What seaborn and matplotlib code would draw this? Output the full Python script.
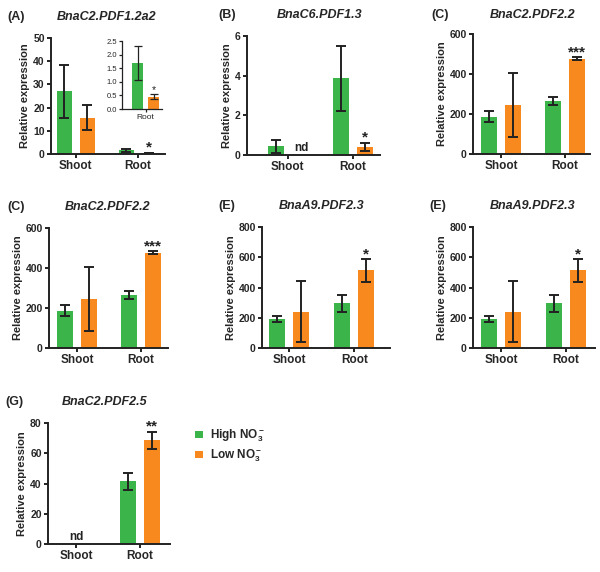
import numpy as np
import pandas as pd
import matplotlib
matplotlib.use("Agg")
import matplotlib.pyplot as plt
import seaborn as sns
from matplotlib.patches import Patch

# ---------------- data ----------------
tissues = ["Shoot", "Root"]
conditions = ["High", "Low"]
condition_labels = [r"High NO$_3^-$", r"Low NO$_3^-$"]

# (A) BnaC2.PDF1.2a2
a_high = [27.0, 1.7]
a_low = [15.7, 0.45]
a_high_err = [11.5, 0.63]
a_low_err = [5.3, 0.10]
# (B) BnaC6.PDF1.3  (nd = not detected)
b_high = [0.45, 3.87]
b_low = [np.nan, 0.42]
b_high_err = [0.33, 1.63]
b_low_err = [np.nan, 0.21]
# (C) BnaC2.PDF2.2
c_high = [187, 265]
c_low = [245, 475]
c_high_err = [27, 20]
c_low_err = [162, 7.5]
# (E) BnaA9.PDF2.3
e_high = [192, 295]
e_low = [240, 513]
e_high_err = [20, 57]
e_low_err = [203, 74]
# (G) BnaC2.PDF2.5
g_high = [np.nan, 41.5]
g_low = [np.nan, 68.5]
g_high_err = [np.nan, 5.5]
g_low_err = [np.nan, 5.7]

colors = {"High": "#3BB44A", "Low": "#F7891F"}

# ---------------- style ----------------
sns.set_theme(style="ticks")
plt.rcParams["font.family"] = ["Liberation Sans", "DejaVu Sans"]
plt.rcParams["font.weight"] = "bold"
plt.rcParams["axes.labelweight"] = "bold"
plt.rcParams["mathtext.fontset"] = "custom"
plt.rcParams["mathtext.rm"] = "Liberation Sans:bold"
plt.rcParams["mathtext.bf"] = "Liberation Sans:bold"
plt.rcParams["mathtext.it"] = "Liberation Sans:bold:italic"
plt.rcParams["mathtext.default"] = "rm"

W, H = 600, 572
fig = plt.figure(figsize=(W / 100, H / 100), dpi=100)


def rect(l, r, t, b):
    return [l / W, 1 - b / H, (r - l) / W, (b - t) / H]


def make_df(high, low, herr, lerr):
    rows = []
    for i, t in enumerate(tissues):
        rows.append(dict(tissue=t, cond="High", value=high[i], err=herr[i]))
        rows.append(dict(tissue=t, cond="Low", value=low[i], err=lerr[i]))
    return pd.DataFrame(rows)


def panel(box, high, low, herr, lerr, ylim, step, xlim, sig=None, nd=None,
          tissue_order=tissues, small=False):
    ax = fig.add_axes(rect(*box))
    df = make_df(high, low, herr, lerr)
    df = df[df["tissue"].isin(tissue_order)]
    dplot = df.dropna(subset=["value"])
    sns.barplot(data=dplot, x="tissue", y="value", hue="cond", order=tissue_order,
                hue_order=conditions, palette=colors, width=0.74, gap=0.33,
                errorbar=None, legend=False, ax=ax, linewidth=0, saturation=1)
    lw = 0.9 if small else 1.4
    cap = 2.6 if small else 3.6
    for ci, cond in enumerate(conditions):
        if ci >= len(ax.containers):
            continue
        for bar in ax.containers[ci]:
            xc = bar.get_x() + bar.get_width() / 2
            idx = int(round(xc))
            row = df[(df["tissue"] == tissue_order[idx]) & (df["cond"] == cond)].iloc[0]
            if np.isnan(row["value"]):
                continue
            ax.errorbar(xc, row["value"], yerr=row["err"], fmt="none",
                        ecolor="#222222", elinewidth=lw, capsize=cap,
                        capthick=lw, zorder=5)
            if sig is not None and sig[0] == tissue_order[idx] and sig[1] == cond:
                ax.annotate(sig[2], (xc, row["value"] + row["err"]),
                            xytext=(0, -1.5 if not small else -1), textcoords="offset points",
                            ha="center", va="bottom",
                            fontsize=7.5 if small else 11, fontweight="normal" if small else "bold",
                            color="#222222")
    if nd is not None:
        for (nx, ny) in nd:
            ax.text(nx, ny, "nd", ha="center", va="bottom", fontsize=8.5,
                    fontweight="bold", color="#222222")
    ax.set_ylim(*ylim)
    ax.set_yticks(np.arange(ylim[0], ylim[1] + step / 2, step))
    ax.set_xlim(*xlim)
    ax.set_xlabel("")
    sns.despine(ax=ax)
    for s in ("left", "bottom"):
        ax.spines[s].set_linewidth(lw)
        ax.spines[s].set_color("#222222")
    ax.tick_params(axis="both", width=lw, length=3 if not small else 2,
                   color="#222222", pad=1.5)
    if small:
        ax.set_ylabel("")
        ax.tick_params(axis="y", labelsize=5.5)
        ax.tick_params(axis="x", labelsize=6)
        for lab in ax.get_xticklabels() + ax.get_yticklabels():
            lab.set_fontweight("normal")
        ax.patch.set_alpha(0)
    else:
        ax.set_ylabel("Relative expression", fontsize=8, fontweight="bold", labelpad=2)
        ax.tick_params(axis="y", labelsize=7.5)
        ax.tick_params(axis="x", labelsize=8.5)
    return ax


def title(lx, tx, y, letter, gene):
    fig.text(lx / W, 1 - y / H, letter, ha="center", va="center", fontsize=9,
             fontweight="bold")
    fig.text(tx / W, 1 - y / H, gene, ha="center", va="center", fontsize=9,
             fontweight="bold", style="italic")


# Row 1
axA = panel((51, 165, 38, 154), a_high, a_low, a_high_err, a_low_err, (0, 50), 10,
            (-0.40, 1.44), sig=("Root", "Low", "*"))
title(16, 107, 17, "(A)", "BnaC2.PDF1.2a2")
inset = panel((122, 162, 41, 109), a_high, a_low, a_high_err, a_low_err, (0, 2.5), 0.5,
              (-0.55, 0.38), sig=("Root", "Low", "*"), tissue_order=["Root"], small=True)
inset.set_yticklabels([f"{v:.1f}" for v in np.arange(0, 2.51, 0.5)])

axB = panel((247, 380, 36, 155), b_high, b_low, b_high_err, b_low_err, (0, 6), 2,
            (-0.63, 1.42), sig=("Root", "Low", "*"), nd=[(0.21, 0.05)])
title(227, 320, 15, "(B)", "BnaC6.PDF1.3")

axC1 = panel((473, 590, 34, 154), c_high, c_low, c_high_err, c_low_err, (0, 600), 200,
             (-0.44, 1.39), sig=("Root", "Low", "***"))
title(440, 533, 15, "(C)", "BnaC2.PDF2.2")

# Row 2
axC2 = panel((49, 168, 228, 348), c_high, c_low, c_high_err, c_low_err, (0, 600), 200,
             (-0.44, 1.42), sig=("Root", "Low", "***"))
title(16, 108, 207, "(C)", "BnaC2.PDF2.2")

axE1 = panel((262, 390, 227, 348), e_high, e_low, e_high_err, e_low_err, (0, 800), 200,
             (-0.42, 1.55), sig=("Root", "Low", "*"))
title(227, 322, 206, "(E)", "BnaA9.PDF2.3")

axE2 = panel((473, 595, 227, 348), e_high, e_low, e_high_err, e_low_err, (0, 800), 200,
             (-0.44, 1.45), sig=("Root", "Low", "*"))
title(438, 533, 206, "(E)", "BnaA9.PDF2.3")

# Row 3
axG = panel((48, 170, 423, 544), g_high, g_low, g_high_err, g_low_err, (0, 80), 20,
            (-0.44, 1.47), sig=("Root", "Low", "**"), nd=[(0.0, 0.8)])
title(14, 105, 402, "(G)", "BnaC2.PDF2.5")

# Legend
handles = [Patch(facecolor=colors[c], edgecolor="none") for c in conditions]
fig.legend(handles, condition_labels, loc="upper left",
           bbox_to_anchor=(195 / W, 1 - 428 / H), frameon=False,
           handlelength=0.7, handleheight=0.5, handletextpad=0.6,
           labelspacing=0.25, fontsize=8.5, borderaxespad=0, borderpad=0)

fig.savefig("out.png", dpi=100)
